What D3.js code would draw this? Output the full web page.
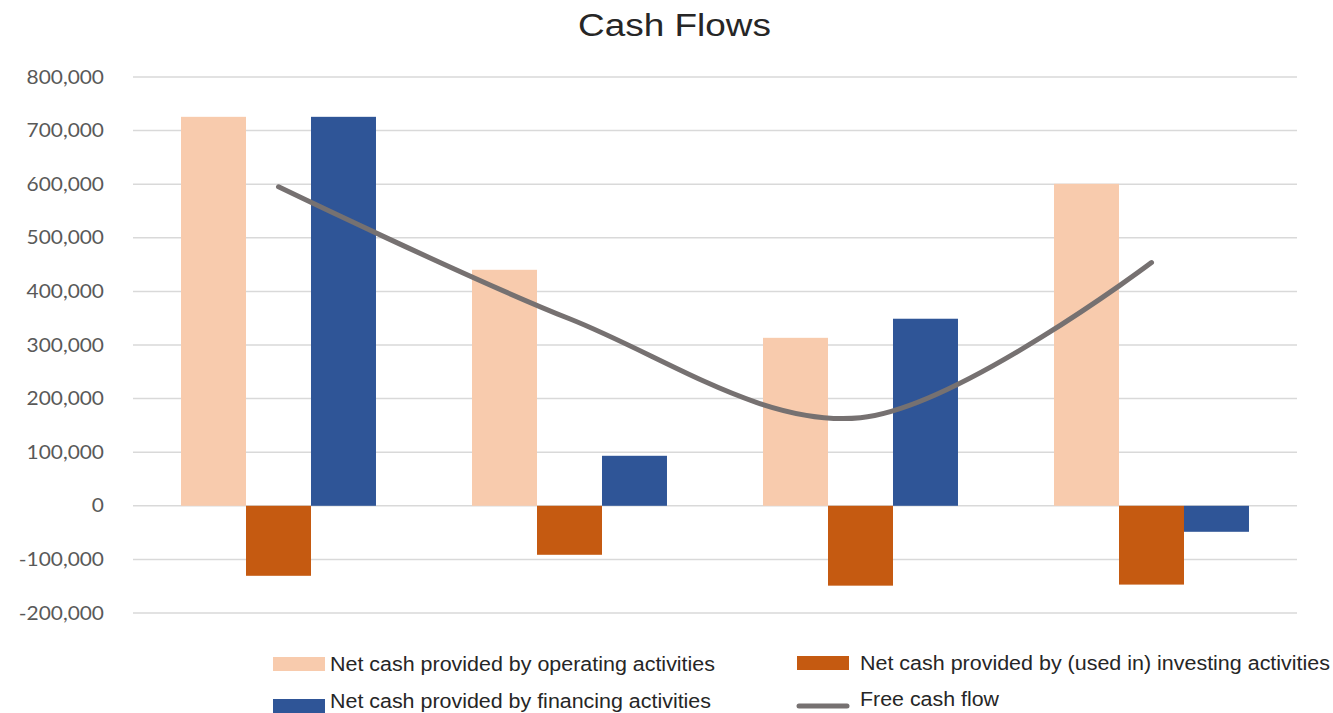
<!DOCTYPE html>
<html>
<head>
<meta charset="utf-8">
<script src="https://cdn.jsdelivr.net/npm/d3@7"></script>
<style>
  body { margin: 0; background: #fff; }
  svg { display: block; }
</style>
</head>
<body>
<div class="chart"></div>
<script>
// data
var categories = ["Q1", "Q2", "Q3", "Q4"];
var operating = [725700, 440300, 313400, 600700];
var investing = [-130600, -91400, -149000, -147000];
var financing = [725700, 93300, 349000, -48500];
var freeCash = [595100, 348900, 164400, 453700];
var yTicks = [-200000, -100000, 0, 100000, 200000, 300000, 400000, 500000, 600000, 700000, 800000];

const width = 1333, height = 713;
const margin = ({ top: 77, right: 36, bottom: 100, left: 133 });

var svg = d3.select(".chart").append("svg")
    .attr("width", width)
    .attr("height", height);

var x = d3.scaleBand()
    .domain(categories)
    .range([margin.left, width - margin.right])
    .paddingInner(0)
    .paddingOuter(0);

var y = d3.scaleLinear()
    .domain([-200000, 800000])
    .range([613, 77]);

// inner band for the three bars of a category
var series = ["operating", "investing", "financing"];
var colors = { operating: "#f8cbad", investing: "#c55a11", financing: "#2f5597" };
var values = { operating: operating, investing: investing, financing: financing };
var groupW = x.bandwidth() * 0.67;
var x1 = d3.scaleBand()
    .domain(series)
    .range([0, groupW]);

// gridlines
svg.append("g")
    .selectAll("line")
    .data(yTicks)
    .join("line")
    .attr("x1", margin.left)
    .attr("x2", width - margin.right)
    .attr("y1", d => y(d))
    .attr("y2", d => y(d))
    .attr("stroke", "#d9d9d9")
    .attr("stroke-width", 1.5);

// y axis labels (plain hyphen for negatives)
var fmt = d3.format(",");
var yAxis = d3.axisLeft(y)
    .tickValues(yTicks)
    .tickSize(0)
    .tickPadding(0)
    .tickFormat(d => fmt(d).replace("\u2212", "-"));

svg.append("g")
    .attr("transform", "translate(104,0) scale(1.1,1)")
    .call(yAxis)
    .call(g => g.select(".domain").remove())
    .selectAll("text")
    .attr("font-family", "Lato, 'Open Sans', sans-serif")
    .attr("font-size", 19)
    .attr("fill", "#595959");

// bars
var gBars = svg.append("g");
series.forEach(function(s) {
    gBars.append("g")
        .selectAll("rect")
        .data(categories)
        .join("rect")
        .attr("x", d => x(d) + (x.bandwidth() - groupW) / 2 + x1(s))
        .attr("width", x1.bandwidth())
        .attr("y", (d, i) => y(Math.max(0, values[s][i])))
        .attr("height", (d, i) => Math.abs(y(values[s][i]) - y(0)))
        .attr("fill", colors[s]);
});

// free cash flow line
var line = d3.line()
    .x((d, i) => x(categories[i]) + x.bandwidth() / 2)
    .y(d => y(d))
    .curve(d3.curveCardinal.tension(0));

svg.append("path")
    .datum(freeCash)
    .attr("d", line)
    .attr("fill", "none")
    .attr("stroke", "#767171")
    .attr("stroke-width", 5)
    .attr("stroke-linecap", "round");

// title
svg.append("text")
    .attr("x", 578)
    .attr("y", 36)
    .attr("font-family", "'Liberation Sans', Arial, sans-serif")
    .attr("font-size", 31)
    .attr("textLength", 193)
    .attr("lengthAdjust", "spacingAndGlyphs")
    .attr("fill", "#262626")
    .text("Cash Flows");

// legend
var legend = [
    { label: "Net cash provided by operating activities", color: colors.operating, type: "rect", x: 273, y: 664, ty: 671, tx: 330, len: 385 },
    { label: "Net cash provided by (used in) investing activities", color: colors.investing, type: "rect", x: 797, y: 663, ty: 670, tx: 860, len: 470 },
    { label: "Net cash provided by financing activities", color: colors.financing, type: "rect", x: 273, y: 706, ty: 708, tx: 330, len: 381 },
    { label: "Free cash flow", color: "#767171", type: "line", x: 797, y: 704, ty: 706, tx: 860, len: 139 }
];

var lg = svg.append("g")
    .selectAll("g")
    .data(legend)
    .join("g")
    .attr("transform", d => `translate(${d.x},${d.y})`);

lg.filter(d => d.type === "rect")
    .append("rect")
    .attr("x", 0)
    .attr("y", -7)
    .attr("width", 52)
    .attr("height", 14)
    .attr("fill", d => d.color);

lg.filter(d => d.type === "line")
    .append("line")
    .attr("x1", 2)
    .attr("x2", 50)
    .attr("y1", 2)
    .attr("y2", 2)
    .attr("stroke", d => d.color)
    .attr("stroke-width", 5)
    .attr("stroke-linecap", "round");

lg.append("text")
    .attr("x", d => d.tx - d.x)
    .attr("y", d => d.ty - d.y)
    .attr("font-family", "'Liberation Sans', Arial, sans-serif")
    .attr("font-size", 20)
    .attr("textLength", d => d.len)
    .attr("lengthAdjust", "spacingAndGlyphs")
    .attr("fill", "#262626")
    .text(d => d.label);
</script>
</body>
</html>
